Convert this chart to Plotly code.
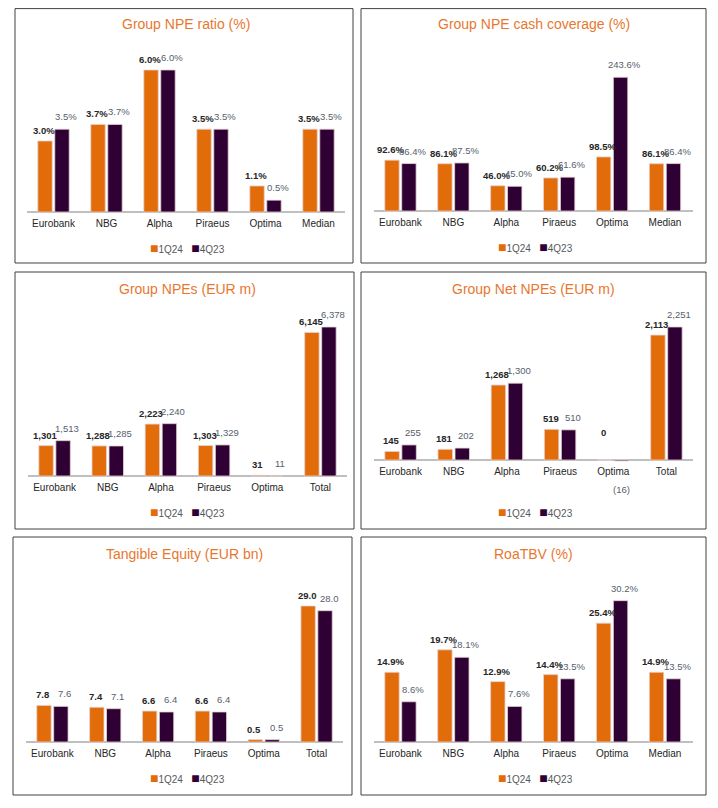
import plotly.graph_objects as go

# The page has a default 8px body margin: the figure is sized to fit inside it
OFF = 8
W, H = 718 - 2 * OFF, 808 - 2 * OFF

# ---------------- data ----------------
series_names = ["1Q24", "4Q23"]
cats_median = ["Eurobank", "NBG", "Alpha", "Piraeus", "Optima", "Median"]
cats_total = ["Eurobank", "NBG", "Alpha", "Piraeus", "Optima", "Total"]

npe_ratio_1q24 = [3.0, 3.7, 6.0, 3.5, 1.1, 3.5]
npe_ratio_4q23 = [3.5, 3.7, 6.0, 3.5, 0.5, 3.5]

cash_cov_1q24 = [92.6, 86.1, 46.0, 60.2, 98.5, 86.1]
cash_cov_4q23 = [86.4, 87.5, 45.0, 61.6, 243.6, 86.4]

npes_1q24 = [1301, 1288, 2223, 1303, 31, 6145]
npes_4q23 = [1513, 1285, 2240, 1329, 11, 6378]

net_npes_1q24 = [145, 181, 1268, 519, 0, 2113]
net_npes_4q23 = [255, 202, 1300, 510, -16, 2251]

tang_eq_1q24 = [7.8, 7.4, 6.6, 6.6, 0.5, 29.0]
tang_eq_4q23 = [7.6, 7.1, 6.4, 6.4, 0.5, 28.0]

roatbv_1q24 = [14.9, 19.7, 12.9, 14.4, 25.4, 14.9]
roatbv_4q23 = [8.6, 18.1, 7.6, 13.5, 30.2, 13.5]

# ---------------- style ----------------
ORANGE = "#E36C0A"
PURPLE = "#2E0033"
TITLE_C = "#E8772E"
LBL1 = "#262626"
LBL2 = "#56606B"
AXIS_C = "#BFBFBF"
FONT = "Liberation Sans"


def fmt_pct(v):
    return f"{v:.1f}%"


def fmt_int(v):
    return f"{v:,.0f}" if v >= 0 else f"({-v:,.0f})"


def fmt_one(v):
    return f"{v:.1f}"


# positions below are in page pixels (718x808 window)
panels = [
    dict(title="Group NPE ratio (%)", cats=cats_median, a=npe_ratio_1q24, b=npe_ratio_4q23, fmt=fmt_pct,
         box=(15, 6, 353, 263), xd=(27, 345), yb=212, s=23.67, ytop=45, tx=186, ty=24, lx=187, ly=248),
    dict(title="Group NPE cash coverage (%)", cats=cats_median, a=cash_cov_1q24, b=cash_cov_4q23, fmt=fmt_pct,
         box=(361, 6, 706, 263), xd=(374, 693), yb=211, s=0.549, ytop=45, tx=534, ty=24, lx=535, ly=247),
    dict(title="Group NPEs (EUR m)", cats=cats_total, a=npes_1q24, b=npes_4q23, fmt=fmt_int,
         box=(15, 272, 354, 529), xd=(28, 347), yb=476, s=0.02336, ytop=310, tx=187, ty=289, lx=188, ly=512),
    dict(title="Group Net NPEs (EUR m)", cats=cats_total, a=net_npes_1q24, b=net_npes_4q23, fmt=fmt_int,
         box=(361, 272, 706, 529), xd=(374, 693), yb=460, s=0.0591, ytop=310, tx=533, ty=289, lx=535, ly=512),
    dict(title="Tangible Equity (EUR bn)", cats=cats_total, a=tang_eq_1q24, b=tang_eq_4q23, fmt=fmt_one,
         box=(13, 537, 352, 795), xd=(26, 343), yb=742, s=4.69, ytop=575, tx=184, ty=554, lx=187, ly=778),
    dict(title="RoaTBV (%)", cats=cats_median, a=roatbv_1q24, b=roatbv_4q23, fmt=fmt_pct,
         box=(361, 537, 706, 795), xd=(374, 693), yb=742, s=4.68, ytop=575, tx=533, ty=554, lx=535, ly=778),
]


def px(x):
    return (x - OFF) / W


def py(y):
    return 1 - (y - OFF) / H


fig = go.Figure()
annotations = []
shapes = []
layout_axes = {}

for i, p in enumerate(panels, start=1):
    xa = "x" if i == 1 else f"x{i}"
    ya = "y" if i == 1 else f"y{i}"
    xkey = "xaxis" if i == 1 else f"xaxis{i}"
    ykey = "yaxis" if i == 1 else f"yaxis{i}"

    for vals, name, color, bold, tcol, dx, dy in [
        (p["a"], series_names[0], ORANGE, True, LBL1, -9.5, 3),
        (p["b"], series_names[1], PURPLE, False, LBL2, 12.5, 5),
    ]:
        fig.add_trace(go.Bar(
            x=p["cats"], y=vals, name=name, xaxis=xa, yaxis=ya,
            marker=dict(color=color, line=dict(color="#E6D2D2", width=0.8)),
            showlegend=False, hoverinfo="x+y", cliponaxis=False,
        ))
        # data labels anchored on each bar's value through the axes
        for c, v in zip(p["cats"], vals):
            if v > 0:
                ys, ya_anchor = dy, "bottom"
            elif v == 0:
                ys, ya_anchor = 27, "middle"
            else:
                ys, ya_anchor = -29, "middle"
            annotations.append(dict(
                x=c, y=v, xref=xa, yref=ya, text=p["fmt"](v), showarrow=False,
                xshift=dx if v >= 0 else 8.5, yshift=ys, yanchor=ya_anchor, xanchor="center",
                font=dict(family=FONT, size=9.5, color=tcol, weight="bold" if bold else "normal")))

    ybot = p["yb"] + 4
    ymin = -(ybot - p["yb"]) / p["s"]
    ymax = (p["yb"] - p["ytop"]) / p["s"]
    layout_axes[xkey] = dict(
        domain=[px(p["xd"][0]), px(p["xd"][1])], anchor=ya, type="category",
        showgrid=False, showline=False, ticks="", zeroline=False, fixedrange=True,
        tickfont=dict(family=FONT, size=10, color="#262626"),
    )
    layout_axes[ykey] = dict(
        domain=[py(ybot), py(p["ytop"])], anchor=xa, range=[ymin, ymax],
        showgrid=False, showticklabels=False, ticks="", showline=False,
        zeroline=True, zerolinecolor=AXIS_C, zerolinewidth=1.6, fixedrange=True,
    )

    # panel frame (kept inside the visible page area)
    x0, y0, x1, y1 = p["box"]
    y0 = max(y0, OFF + 0.6)
    shapes.append(dict(type="rect", xref="paper", yref="paper",
                       x0=px(x0), x1=px(x1), y0=py(y1), y1=py(y0),
                       line=dict(color="#404040", width=1), fillcolor="rgba(0,0,0,0)", layer="above"))
    # title
    annotations.append(dict(x=px(p["tx"]), y=py(p["ty"]), xref="paper", yref="paper",
                            text=p["title"], showarrow=False, xanchor="center", yanchor="middle",
                            font=dict(family=FONT, size=14, color=TITLE_C)))
    # legend
    leg = (f"<span style='color:{ORANGE};font-size:14px'>■</span>{series_names[0]}"
           f"&nbsp;&nbsp;&nbsp;<span style='color:{PURPLE};font-size:14px'>■</span>{series_names[1]}")
    annotations.append(dict(x=px(p["lx"]), y=py(p["ly"]), xref="paper", yref="paper",
                            text=leg, showarrow=False, xanchor="center", yanchor="middle",
                            font=dict(family=FONT, size=10, color="#595959")))

fig.update_layout(
    width=W, height=H, margin=dict(l=0, r=0, t=0, b=0),
    paper_bgcolor="white", plot_bgcolor="white",
    barmode="group", bargap=0.36, bargroupgap=0.15,
    annotations=annotations, shapes=shapes,
    font=dict(family=FONT, size=10),
    **layout_axes,
)

fig.write_html("out.html")
